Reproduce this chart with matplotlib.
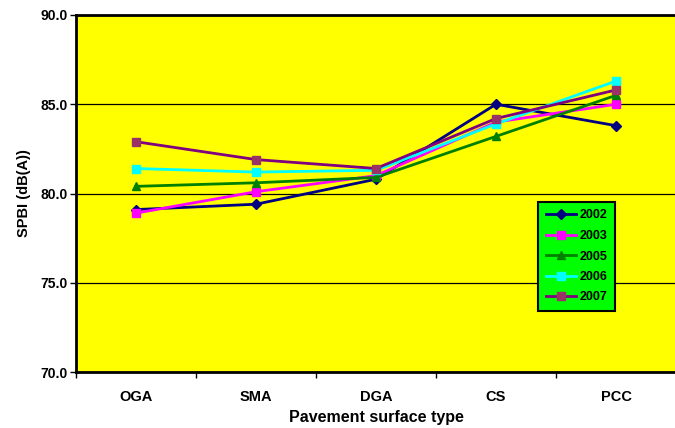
import matplotlib
matplotlib.use("Agg")
import matplotlib.pyplot as plt

plt.rcParams["font.family"] = ["Liberation Sans", "DejaVu Sans"]
plt.rcParams["font.weight"] = "bold"

# Data
surfaces = ["OGA", "SMA", "DGA", "CS", "PCC"]
years = ["2002", "2003", "2005", "2006", "2007"]
spbi_2002 = [79.1, 79.4, 80.8, 85.0, 83.8]
spbi_2003 = [78.9, 80.1, 81.0, 84.0, 85.0]
spbi_2005 = [80.4, 80.6, 80.9, 83.2, 85.5]
spbi_2006 = [81.4, 81.2, 81.3, 83.9, 86.3]
spbi_2007 = [82.9, 81.9, 81.4, 84.2, 85.8]
series = [spbi_2002, spbi_2003, spbi_2005, spbi_2006, spbi_2007]

line_colors = ["#000080", "#FF00FF", "#008000", "#00FFFF", "#800080"]
face_colors = ["#000080", "#FF00FF", "#008000", "#00FFFF", "#993366"]
markers = ["D", "s", "^", "s", "s"]
msizes = [5, 6, 6, 6, 6]

fig = plt.figure(figsize=(6.75, 4.28), dpi=100)
ax = fig.add_axes([76 / 675, 1 - 372 / 428, 600 / 675, 357 / 428])
ax.set_facecolor("#FFFF00")

x = list(range(len(surfaces)))
for vals, yr, lc, fc, m, ms in zip(series, years, line_colors, face_colors, markers, msizes):
    ax.plot(x, vals, color=lc, lw=2, marker=m, markersize=ms,
            markerfacecolor=fc, markeredgecolor=fc, label=yr, zorder=3)

ax.set_xlim(-0.5, 4.5)
ax.set_ylim(70, 90)
ax.set_yticks([70, 75, 80, 85, 90])
ax.set_yticklabels([f"{v:.1f}" for v in [70, 75, 80, 85, 90]], fontsize=10, fontweight="bold")
ax.set_xticks(x)
ax.set_xticklabels(surfaces, fontsize=10.5, fontweight="bold")
ax.set_xticks([i + 0.5 for i in range(-1, 5)], minor=True)
ax.tick_params(axis="x", which="major", length=0, pad=13)
ax.tick_params(axis="x", which="minor", length=4, width=1)
ax.tick_params(axis="y", length=4, width=1, pad=2)
ax.yaxis.grid(True, color="black", lw=0.9)
ax.set_axisbelow(True)

for side in ["left", "top", "bottom"]:
    ax.spines[side].set_linewidth(2)
ax.spines["right"].set_visible(False)

ax.set_ylabel("SPBI (dB(A))", fontsize=10.5, fontweight="bold", labelpad=7)
ax.set_xlabel("Pavement surface type", fontsize=11.5, fontweight="bold", labelpad=4)

leg = ax.legend(loc="upper left", bbox_to_anchor=(538 / 675, 1 - 202 / 428),
                bbox_transform=fig.transFigure, borderaxespad=0, fancybox=False, framealpha=1,
                facecolor="#00FF00", edgecolor="black", prop={"weight": "bold", "size": 9},
                handlelength=2.4, labelspacing=0.68, borderpad=0.6, handletextpad=0.3)
leg.get_frame().set_linewidth(1.5)

fig.savefig("out.png", dpi=100)
